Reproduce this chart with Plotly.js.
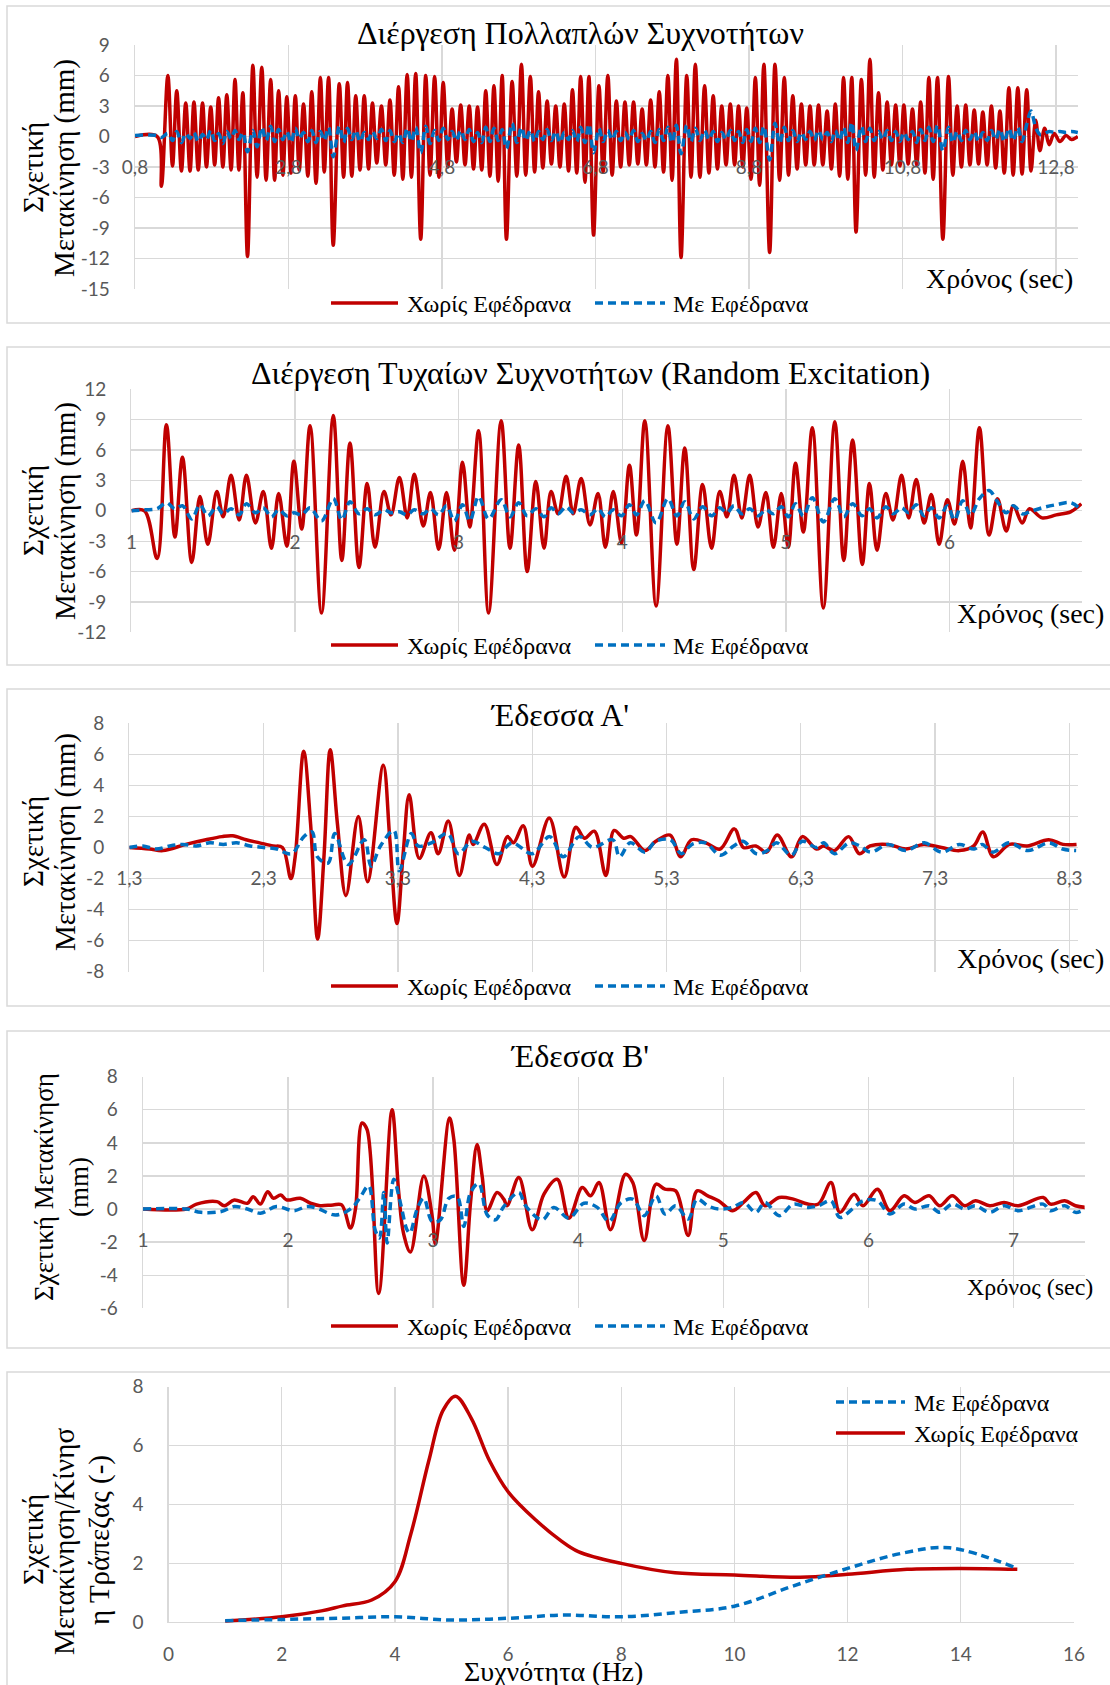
<!DOCTYPE html>
<html><head><meta charset="utf-8">
<script src="https://cdn.plot.ly/plotly-3.0.1.min.js"></script>
<style>body{margin:0;background:#fff}#chart{width:1110px;height:1685px}</style>
</head><body><div id="chart"></div>
<script>
// ---------- DATA ----------
// Panel 1: Διέργεση Πολλαπλών Συχνοτήτων
const t1 = [0.8,1.089,1.144,1.228,1.289,1.344,1.405,1.461,1.517,1.568,
1.624,1.68,1.731,1.787,1.838,1.889,1.945,1.996,2.052,2.103,
2.154,2.205,2.266,2.336,2.391,2.452,2.508,2.568,2.619,2.671,
2.727,2.778,2.834,2.889,2.94,2.996,3.052,3.103,3.159,3.215,
3.266,3.322,3.383,3.462,3.518,3.569,3.625,3.676,3.732,3.787,
3.843,3.894,3.95,4.011,4.067,4.122,4.178,4.234,4.29,4.346,
4.402,4.457,4.523,4.588,4.644,4.704,4.76,4.816,4.876,4.932,
4.988,5.044,5.1,5.155,5.211,5.263,5.318,5.37,5.425,5.477,
5.532,5.584,5.64,5.714,5.775,5.835,5.891,5.951,6.007,6.058,
6.114,6.17,6.226,6.282,6.337,6.393,6.449,6.5,6.556,6.607,
6.663,6.714,6.775,6.845,6.9,6.961,7.017,7.072,7.128,7.184,
7.24,7.296,7.352,7.408,7.463,7.519,7.575,7.631,7.687,7.743,
7.798,7.854,7.915,7.989,8.045,8.101,8.161,8.222,8.278,8.334,
8.389,8.445,8.501,8.557,8.613,8.664,8.72,8.771,8.827,8.883,
8.939,8.994,9.069,9.139,9.199,9.26,9.315,9.371,9.427,9.483,
9.539,9.595,9.65,9.706,9.762,9.818,9.874,9.925,9.981,10.032,
10.088,10.139,10.195,10.265,10.32,10.376,10.432,10.488,10.544,10.6,
10.656,10.711,10.767,10.818,10.874,10.93,10.986,11.037,11.093,11.144,
11.2,11.256,11.326,11.4,11.456,11.512,11.568,11.624,11.679,11.735,
11.791,11.847,11.903,11.959,12.014,12.07,12.126,12.187,12.242,12.303,
12.358,12.419,12.475,12.535,12.591,12.652,12.712,12.777,12.852,12.931,
13.001,13.085];
const red1 = [0,0,-4.9,6.0,-2.9,4.5,-3.4,3.3,-3.4,3.4,
-3.3,3.3,-3.0,2.9,-2.8,3.8,-3.0,4.1,-3.3,5.6,
-3.3,4.3,-11.8,7.0,-4.0,6.8,-4.3,5.6,-4.3,4.5,
-3.8,3.9,-3.6,4.0,-3.3,3.2,-3.9,4.4,-4.6,5.8,
-3.5,5.8,-10.7,5.2,-4.0,5.3,-3.9,4.0,-3.3,4.0,
-3.2,3.3,-2.6,3.0,-2.8,3.6,-3.8,4.9,-4.2,6.1,
-4.0,6.2,-10.1,6.0,-3.8,5.9,-4.0,5.3,-3.0,2.7,
-2.5,3.1,-2.8,3.0,-3.2,2.9,-3.3,4.5,-3.9,5.0,
-4.4,6.0,-10.1,5.4,-3.9,7.1,-3.8,5.9,-3.5,4.4,
-3.1,3.5,-2.7,3.0,-3.0,3.2,-3.4,4.6,-3.6,5.9,
-4.5,5.9,-9.7,5.0,-3.5,6.0,-3.8,3.5,-3.0,3.4,
-2.8,3.4,-2.7,2.7,-2.8,3.6,-3.0,4.4,-3.5,6.0,
-4.3,7.6,-11.9,6.0,-4.0,7.1,-4.0,5.0,-3.6,4.0,
-3.2,3.0,-2.8,3.2,-2.8,3.0,-3.0,2.8,-4.2,5.8,
-4.8,7.1,-11.4,7.1,-4.3,5.8,-3.8,4.0,-3.2,3.2,
-2.8,3.0,-2.8,3.1,-2.8,2.5,-3.2,3.2,-3.9,5.8,
-4.2,5.8,-9.4,5.6,-3.8,7.6,-4.0,4.3,-3.3,3.4,
-2.8,3.1,-2.9,3.1,-2.7,2.7,-2.8,3.4,-3.6,5.8,
-4.2,5.8,-10.1,5.9,-3.8,3.0,-3.0,3.1,-2.8,2.6,
-2.7,2.4,-2.8,3.0,-3.1,2.5,-3.6,4.8,-3.8,4.8,
-3.7,4.6,-3.4,1.6,-1.4,0.8,-0.8,0.3,-0.5,0.1,
-0.3,0.0];
const blue1 = [0.1,0.1,-0.1,0.3,-0.4,0.5,-0.6,0.3,-0.2,0.4,
-0.5,0.2,-0.3,0.6,-0.4,0.3,-0.7,0.5,-0.2,0.6,
-0.3,0.4,-1.5,0.6,-1.0,0.9,-0.4,1.0,-0.5,0.7,
-0.3,0.5,-0.6,0.8,-0.2,0.4,-0.5,0.6,-0.6,0.5,
-0.4,0.9,-2.0,1.0,-0.6,0.8,-0.3,0.6,-0.5,0.4,
-0.3,0.5,-0.2,0.7,-0.4,0.6,-0.5,0.3,-0.6,0.8,
-0.5,0.9,-1.6,1.0,-0.7,0.6,-0.4,0.8,-0.3,0.5,
-0.4,0.6,-0.3,0.7,-0.5,0.4,-0.6,0.9,-0.5,0.8,
-0.4,0.7,-1.2,1.3,-0.6,0.9,-0.4,0.6,-0.5,0.5,
-0.3,0.7,-0.4,0.5,-0.6,0.4,-0.3,0.6,-0.5,0.9,
-0.6,1.2,-1.6,0.8,-0.5,0.6,-0.3,0.5,-0.4,0.4,
-0.3,0.6,-0.5,0.3,-0.4,0.5,-0.6,0.7,-0.4,0.9,
-0.6,1.1,-1.7,1.1,-0.5,0.8,-0.4,0.6,-0.3,0.5,
-0.5,0.4,-0.3,0.6,-0.4,0.5,-0.6,0.7,-0.5,0.8,
-0.6,1.0,-2.3,1.3,-0.7,0.9,-0.4,0.6,-0.5,0.4,
-0.3,0.5,-0.4,0.6,-0.3,0.4,-0.5,0.6,-0.4,0.9,
-0.6,1.4,-1.4,1.0,-0.5,0.8,-0.4,0.5,-0.3,0.6,
-0.4,0.5,-0.5,0.4,-0.3,0.5,-0.6,0.7,-0.4,0.9,
-0.5,1.1,-1.4,0.9,-0.6,0.5,-0.4,0.6,-0.3,0.5,
-0.5,0.4,-0.4,0.6,-0.3,0.7,-0.5,0.8,-0.4,0.9,
-0.5,1.2,2.5,0.9,0.2,0.3,0.5,0.4,0.5,0.4,
0.5,0.4];

// Panel 2: Random Excitation
const t2 = [1.0,1.08,1.157,1.214,1.266,1.312,1.369,1.419,1.467,1.522,
1.561,1.609,1.659,1.703,1.758,1.806,1.856,1.9,1.95,1.993,
2.041,2.092,2.162,2.234,2.286,2.336,2.391,2.441,2.489,2.544,
2.587,2.638,2.686,2.729,2.784,2.828,2.878,2.926,2.974,3.024,
3.068,3.122,3.183,3.26,3.314,3.367,3.419,3.472,3.522,3.565,
3.608,3.657,3.70,3.749,3.803,3.852,3.897,3.945,3.996,4.044,
4.087,4.138,4.207,4.279,4.334,4.382,4.437,4.491,4.546,4.596,
4.64,4.683,4.731,4.779,4.83,4.878,4.924,4.972,5.015,5.059,
5.107,5.162,5.229,5.299,5.354,5.408,5.467,5.511,5.557,5.611,
5.655,5.707,5.751,5.797,5.845,5.889,5.937,5.987,6.031,6.081,
6.129,6.183,6.242,6.293,6.347,6.391,6.445,6.489,6.566,6.653,
6.74,6.806];
const red2 = [0,0,-4.7,8.5,-2.6,5.3,-5.1,1.4,-3.3,1.9,
-0.6,3.5,-0.9,3.5,-1.2,1.9,-3.7,1.7,-3.5,4.9,
-1.8,8.4,-10.1,9.4,-4.9,6.7,-5.6,2.7,-3.6,1.9,
-0.4,3.3,-0.7,3.6,-1.5,1.8,-3.8,1.8,-3.9,4.8,
-1.6,7.9,-10.1,8.9,-3.7,6.5,-6.0,2.9,-3.7,1.9,
-0.3,3.4,-0.3,3.2,-1.4,1.7,-3.6,1.9,-3.2,4.5,
-2.4,8.9,-9.4,8.4,-3.3,6.2,-5.8,2.6,-3.7,1.9,
-0.6,3.5,-0.7,3.5,-1.6,1.8,-3.6,1.7,-3.6,4.7,
-2.1,8.2,-9.6,8.8,-4.9,7.0,-5.3,2.7,-3.9,1.7,
-0.9,3.5,-0.7,3.1,-1.2,1.6,-3.3,1.1,-1.3,4.9,
-1.7,8.2,-2.4,1.2,-2.0,0.5,-1.2,0.2,-0.7,-0.4,
-0.1,0.7];
const blue2 = [0.0,0.1,0.2,0.8,0.2,0.5,-0.8,0.6,-0.5,0.4,
-0.3,0.2,-0.4,0.7,-0.2,0.3,-0.6,0.1,-0.5,-0.2,
-0.4,0.3,-1.0,1.2,-0.9,0.9,-0.3,0.2,-0.4,0.1,
-0.2,-0.1,-0.4,0.1,-0.3,0.2,-0.4,0.5,-1.0,0.6,
-1.0,1.4,-0.8,1.1,-0.6,0.8,-0.5,0.2,-0.6,0.3,
-0.3,0.4,-0.2,0.1,-0.4,0.2,-0.6,0.1,-0.5,0.6,
-0.4,1.0,-1.2,1.2,-0.5,0.9,-0.8,0.4,-0.5,0.3,
-0.2,0.5,-0.3,0.2,-0.5,0.1,-0.3,0.4,-0.6,0.7,
-0.5,1.3,-1.1,1.2,-0.6,0.7,-0.5,0.2,-0.7,0.4,
-0.3,0.3,-0.2,0.6,-0.5,0.3,-0.7,0.5,-0.9,1.0,
-0.4,1.2,2.0,0.9,-0.2,0.5,-0.3,-0.1,0.3,0.6,
0.8,0.1];

// Panel 3: Έδεσσα Α'
const t3 = [1.3,1.45,1.55,1.72,1.87,1.99,2.07,2.17,2.27,2.37,
2.44,2.503,2.535,2.598,2.65,2.702,2.75,2.796,2.85,2.913,
3.005,3.074,3.191,3.24,3.293,3.34,3.384,3.459,3.546,3.6,
3.675,3.757,3.831,3.86,3.943,4.037,4.116,4.16,4.233,4.302,
4.427,4.538,4.625,4.69,4.762,4.848,4.91,4.981,5.034,5.14,
5.22,5.327,5.406,5.486,5.593,5.699,5.805,5.872,5.965,6.045,
6.124,6.231,6.311,6.417,6.47,6.55,6.656,6.736,6.816,6.949,
7.082,7.215,7.348,7.481,7.587,7.654,7.734,7.853,7.986,8.146,
8.252,8.353];
const red3 = [0,-0.1,-0.2,0.2,0.5,0.7,0.75,0.5,0.3,0.1,
0.0,-2.0,-0.6,6.2,1.5,-5.9,-0.5,6.3,1.5,-3.1,
2.0,-2.2,5.3,0.5,-4.9,-0.3,3.4,-0.7,0.95,-0.4,
1.7,-1.8,0.8,0.2,1.5,-1.1,0.7,0.3,1.4,-1.2,
1.9,-1.9,1.3,0.6,1.05,-1.8,1.1,0.6,0.7,-0.2,
0.4,0.8,-0.6,0.5,0.3,-0.1,1.2,0.0,0.1,-0.3,
0.8,-0.6,0.7,-0.1,0.1,-0.2,0.7,-0.4,0.1,0.2,
-0.1,0.2,0.0,-0.2,0.1,1.0,-0.6,0.2,0.1,0.5,
0.2,0.2];
const t3b = [1.3,1.4,1.5,1.6,1.7,1.8,1.9,2.0,2.1,2.2,
2.3,2.4,2.45,2.51,2.6,2.66,2.7,2.78,2.83,2.93,
3.05,3.1,3.17,3.27,3.31,3.4,3.45,3.55,3.67,3.75,
3.85,3.95,4.05,4.15,4.3,4.43,4.53,4.65,4.75,4.9,
4.95,5.03,5.14,5.22,5.33,5.41,5.49,5.59,5.7,5.8,
5.87,5.97,6.05,6.12,6.23,6.31,6.42,6.47,6.55,6.66,
6.74,6.82,6.95,7.08,7.22,7.35,7.48,7.59,7.65,7.73,
7.85,7.99,8.15,8.25,8.35];
const blue3 = [0,0.1,-0.1,0.1,0.2,0.1,0.3,0.2,0.3,0.1,
0.0,-0.1,-0.3,-0.4,0.7,1.0,-0.6,-1.0,0.9,-1.1,
0.5,-1.2,0.1,1.1,-1.5,0.9,0.1,0.3,0.9,-0.4,
0.4,0.0,-0.4,0.3,-0.4,0.7,-0.6,0.7,0.0,0.5,
-0.6,0.3,-0.3,0.4,0.5,-0.4,0.2,0.3,-0.5,0.1,
0.4,-0.4,-0.2,0.3,-0.5,0.4,0.0,0.3,-0.4,0.3,
0.1,-0.3,0.2,-0.2,0.3,-0.3,0.2,-0.1,0.2,-0.3,
0.3,-0.2,0.3,-0.1,-0.2];

// Panel 4: Έδεσσα Β'
const t4 = [1.0,1.3,1.37,1.51,1.56,1.63,1.72,1.76,1.81,1.86,
1.9,1.95,1.99,2.085,2.155,2.22,2.31,2.37,2.43,2.465,
2.51,2.545,2.625,2.717,2.763,2.797,2.844,2.936,2.993,3.016,
3.113,3.143,3.211,3.258,3.303,3.338,3.373,3.441,3.487,3.51,
3.591,3.683,3.764,3.855,3.936,4.028,4.085,4.143,4.223,4.326,
4.376,4.455,4.536,4.598,4.672,4.758,4.819,4.893,4.967,5.065,
5.139,5.225,5.287,5.385,5.483,5.582,5.656,5.742,5.803,5.902,
5.963,6.062,6.148,6.246,6.32,6.418,6.492,6.578,6.664,6.738,
6.836,6.935,7.033,7.205,7.255,7.353,7.427,7.494];
const red4 = [0,0,0.3,0.45,0.2,0.55,0.35,0.75,0.3,1.05,
0.65,0.85,0.55,0.65,0.35,0.2,0.25,0.25,-1.15,0.0,
5.2,4.8,-5.1,6.0,1.0,-1.5,-2.6,2.0,-0.4,-2.1,
5.5,4.2,-4.6,0.4,3.9,2.0,-0.1,1.0,0.6,0.2,
1.9,-1.25,0.9,1.8,-0.55,1.3,0.8,1.6,-1.25,2.1,
1.6,-1.9,1.5,1.2,1.1,-1.6,1.1,0.8,0.5,-0.1,
0.4,1.0,0.2,0.7,0.6,0.3,0.3,1.6,-0.2,0.9,
0.2,1.2,-0.1,0.8,0.4,0.8,0.2,0.8,0.2,0.5,
0.2,0.4,0.2,0.7,0.3,0.5,0.2,0.1];
const t4b = [1.0,1.3,1.4,1.54,1.63,1.72,1.81,1.92,2.04,2.13,
2.2,2.315,2.38,2.45,2.5,2.556,2.6,2.63,2.66,2.683,
2.729,2.775,2.82,2.84,2.89,2.936,2.993,3.05,3.108,3.166,
3.211,3.258,3.315,3.373,3.43,3.487,3.591,3.637,3.752,3.832,
3.936,4.039,4.131,4.212,4.292,4.376,4.455,4.536,4.598,4.672,
4.758,4.819,4.893,4.967,5.065,5.139,5.225,5.287,5.385,5.483,
5.582,5.656,5.742,5.803,5.902,5.963,6.062,6.148,6.246,6.32,
6.418,6.492,6.578,6.664,6.738,6.836,6.935,7.033,7.205,7.255,
7.353,7.427,7.494];
const blue4 = [0,0,-0.2,-0.15,0.15,0.0,-0.25,0.15,-0.1,0.15,
0.05,-0.35,-0.25,0.15,0.75,1.4,-1.25,-1.75,1.0,-2.05,
1.8,0.35,-1.25,-1.45,0.0,0.65,-0.75,-0.65,0.65,0.75,
-1.05,1.0,1.55,-0.35,-0.65,0.15,1.0,0.2,-0.65,0.1,
-0.55,0.35,0.1,-0.75,0.35,0.6,-0.4,0.8,-0.3,0.2,
-0.6,0.6,0.2,0.0,0.1,0.4,-0.2,0.4,-0.4,0.3,
0.1,0.2,0.5,-0.5,0.1,0.5,0.5,-0.3,0.3,0.0,
0.2,-0.2,0.3,0.0,0.2,-0.2,0.2,-0.1,0.3,-0.1,
0.2,-0.2,0.0];

// Panel 5: frequency response
const f5red = [1,2,2.7,3.08,3.59,4.0,4.28,4.6,4.85,5.07,5.35,5.67,6.0,6.49,6.92,7.24,8,8.95,10,11.16,12,13.05,14,15];
const v5red = [0.05,0.2,0.4,0.57,0.77,1.39,3.0,5.5,7.2,7.68,6.93,5.5,4.44,3.48,2.8,2.41,2.01,1.69,1.62,1.54,1.64,1.81,1.84,1.81];
const f5blue = [1,2,3,4,5,6,7,8,9,10,11,12,13,13.8,15];
const v5blue = [0.07,0.11,0.15,0.2,0.09,0.15,0.26,0.2,0.35,0.56,1.22,1.84,2.37,2.54,1.84];

// Tick values / labels
const x1Ticks = [0.8,2.8,4.8,6.8,8.8,10.8,12.8];
const x1Labels = ['0,8','2,8','4,8','6,8','8,8','10,8','12,8'];
const y1Ticks = [-15,-12,-9,-6,-3,0,3,6,9];
const y1Labels = ['-15','-12','-9','-6','-3','0','3','6','9'];
const x2Ticks = [1,2,3,4,5,6];
const x2Labels = ['1','2','3','4','5','6'];
const y2Ticks = [-12,-9,-6,-3,0,3,6,9,12];
const y2Labels = ['-12','-9','-6','-3','0','3','6','9','12'];
const x3Ticks = [1.3,2.3,3.3,4.3,5.3,6.3,7.3,8.3];
const x3Labels = ['1,3','2,3','3,3','4,3','5,3','6,3','7,3','8,3'];
const y3Ticks = [-8,-6,-4,-2,0,2,4,6,8];
const y3Labels = ['-8','-6','-4','-2','0','2','4','6','8'];
const x4Ticks = [1,2,3,4,5,6,7];
const x4Labels = ['1','2','3','4','5','6','7'];
const y4Ticks = [-6,-4,-2,0,2,4,6,8];
const y4Labels = ['-6','-4','-2','0','2','4','6','8'];
const x5Ticks = [0,2,4,6,8,10,12,14,16];
const x5Labels = ['0','2','4','6','8','10','12','14','16'];
const y5Ticks = [0,2,4,6,8];
const y5Labels = ['0','2','4','6','8'];

const nameRed = 'Χωρίς Εφέδρανα';
const nameBlue = 'Με Εφέδρανα';

// ---------- LAYOUT ----------
const W = 1110, H = 1685;
const fx = p => p / W;
const fy = p => 1 - p / H;
const GRID = '#d9d9d9';
const SERIF = '"Liberation Serif", "Times New Roman", serif';
const TICKFONT = {family: 'Lato, "Open Sans", sans-serif', size: 19, color: '#595959'};
const RED = '#C00000', BLUE = '#0070C0';
const DASH = '8px,5px';

const panels = [
  {L:135, R:1078, T:45, B:289, xr:[0.8,13.087], yr:[-15,9], xt:x1Ticks, xl:x1Labels, yt:y1Ticks, yl:y1Labels, zero:true,
   t:t1, red:red1, tb:t1, blue:blue1},
  {L:131.4, R:1082, T:389.3, B:632.3, xr:[1,6.81], yr:[-12,12], xt:x2Ticks, xl:x2Labels, yt:y2Ticks, yl:y2Labels, zero:true,
   t:t2, red:red2, tb:t2, blue:blue2},
  {L:129.3, R:1077.9, T:723.3, B:971.7, xr:[1.3,8.363], yr:[-8,8], xt:x3Ticks, xl:x3Labels, yt:y3Ticks, yl:y3Labels, zero:true,
   t:t3, red:red3, tb:t3b, blue:blue3},
  {L:142.9, R:1084.6, T:1076.7, B:1308.3, xr:[1,7.49], yr:[-6,8], xt:x4Ticks, xl:x4Labels, yt:y4Ticks, yl:y4Labels, zero:true,
   t:t4, red:red4, tb:t4b, blue:blue4},
  {L:168.6, R:1073.9, T:1386.7, B:1622.7, xr:[0,16], yr:[0,8], xt:x5Ticks, xl:x5Labels, yt:y5Ticks, yl:y5Labels, zero:false,
   t:f5red, red:v5red, tb:f5blue, blue:v5blue}
];

const layout = {
  width: W, height: H, margin: {l:0, r:0, t:0, b:0},
  paper_bgcolor: '#fff', plot_bgcolor: '#fff', showlegend: false,
  shapes: [], annotations: []
};
const data = [];

panels.forEach((p, i) => {
  const s = i === 0 ? '' : String(i + 1);
  const zeroPx = p.T + (p.yr[1] / (p.yr[1] - p.yr[0])) * (p.B - p.T);
  const xa = {
    domain: [fx(p.L), fx(p.R)], range: p.xr, tickmode: 'array', tickvals: p.xt, ticktext: p.xl,
    showgrid: true, gridcolor: GRID, gridwidth: 1.3, zeroline: false, showline: false,
    ticks: 'outside', ticklen: 14, tickcolor: 'rgba(0,0,0,0)', tickfont: TICKFONT, fixedrange: true, automargin: false
  };
  if (p.zero) { xa.anchor = 'free'; xa.position = fy(zeroPx); } else { xa.anchor = 'y' + s; }
  layout['xaxis' + s] = xa;
  layout['yaxis' + s] = {
    domain: [fy(p.B), fy(p.T)], range: p.yr, anchor: 'x' + s, tickmode: 'array', tickvals: p.yt, ticktext: p.yl,
    showgrid: true, gridcolor: GRID, gridwidth: 1.3, zeroline: true, zerolinecolor: GRID, zerolinewidth: 1.3,
    showline: true, linecolor: GRID, linewidth: 1.3,
    ticks: 'outside', ticklen: 20, tickcolor: 'rgba(0,0,0,0)', tickfont: TICKFONT, fixedrange: true, automargin: false
  };
  data.push({type:'scatter', mode:'lines', x:p.t, y:p.red, name:nameRed, xaxis:'x'+s, yaxis:'y'+s,
    line:{color:RED, width:3.5, shape:'spline', smoothing:1}, hoverinfo:'skip', showlegend:false});
  data.push({type:'scatter', mode:'lines', x:p.tb, y:p.blue, name:nameBlue, xaxis:'x'+s, yaxis:'y'+s,
    line:{color:BLUE, width:3.5, shape:'spline', smoothing:1, dash:DASH}, hoverinfo:'skip', showlegend:false});
});

// panel borders
[[6,323],[347,665],[689,1006],[1031,1348],[1372,1700]].forEach(b => {
  layout.shapes.push({type:'rect', xref:'paper', yref:'paper', x0:fx(7), x1:fx(1118), y0:fy(b[1]), y1:fy(b[0]),
    line:{color:GRID, width:1.5}, fillcolor:'rgba(0,0,0,0)', layer:'below'});
});

function ann(text, x, y, size, opts) {
  layout.annotations.push(Object.assign({text, x:fx(x), y:fy(y), xref:'paper', yref:'paper', showarrow:false,
    xanchor:'center', yanchor:'middle', font:{family:SERIF, size, color:'#000'}}, opts || {}));
}
// titles
ann('Διέργεση Πολλαπλών Συχνοτήτων', 580, 33, 32);
ann('Διέργεση Τυχαίων Συχνοτήτων (Random Excitation)', 590, 373, 32);
ann("Έδεσσα Α'", 559, 715, 32);
ann("Έδεσσα Β'", 579, 1056, 32);
// y titles
[[168],[511],[842]].forEach(r => {
  ann('Σχετική', 33, r[0], 29, {textangle:-90});
  ann('Μετακίνηση (mm)', 65, r[0], 29, {textangle:-90});
});
ann('Σχετική Μετακίνηση', 44, 1187, 27, {textangle:-90});
ann('(mm)', 79, 1187, 27, {textangle:-90});
ann('Σχετική', 33, 1540, 29, {textangle:-90});
ann('Μετακίνηση/Κίνησ', 64, 1542, 29, {textangle:-90});
ann('η Τράπεζας (-)', 99, 1540, 29, {textangle:-90});
// x titles
ann('Χρόνος (sec)', 1075, 278, 28, {xanchor:'right'});
ann('Χρόνος (sec)', 1106, 613, 28, {xanchor:'right'});
ann('Χρόνος (sec)', 1106, 958, 28, {xanchor:'right'});
ann('Χρόνος (sec)', 1095, 1287, 24, {xanchor:'right'});
ann('Συχνότητα (Hz)', 553, 1671, 28);

// legends (drawn manually)
function legItem(x0, x1, y, tx, color, dash, label) {
  layout.shapes.push({type:'line', xref:'paper', yref:'paper', x0:fx(x0), x1:fx(x1), y0:fy(y), y1:fy(y),
    line:{color, width:3.5, dash: dash || 'solid'}});
  ann(label, tx, y + 1, 24, {xanchor:'left'});
}
[[303],[645],[986],[1326]].forEach(r => {
  legItem(331, 398, r[0], 405, RED, null, nameRed);
  legItem(595, 665, r[0], 671, BLUE, DASH, nameBlue);
});
legItem(836, 905, 1402, 912, BLUE, DASH, nameBlue);
legItem(836, 905, 1433, 912, RED, null, nameRed);

Plotly.newPlot('chart', data, layout, {staticPlot:true, displayModeBar:false});
</script>
</body></html>
